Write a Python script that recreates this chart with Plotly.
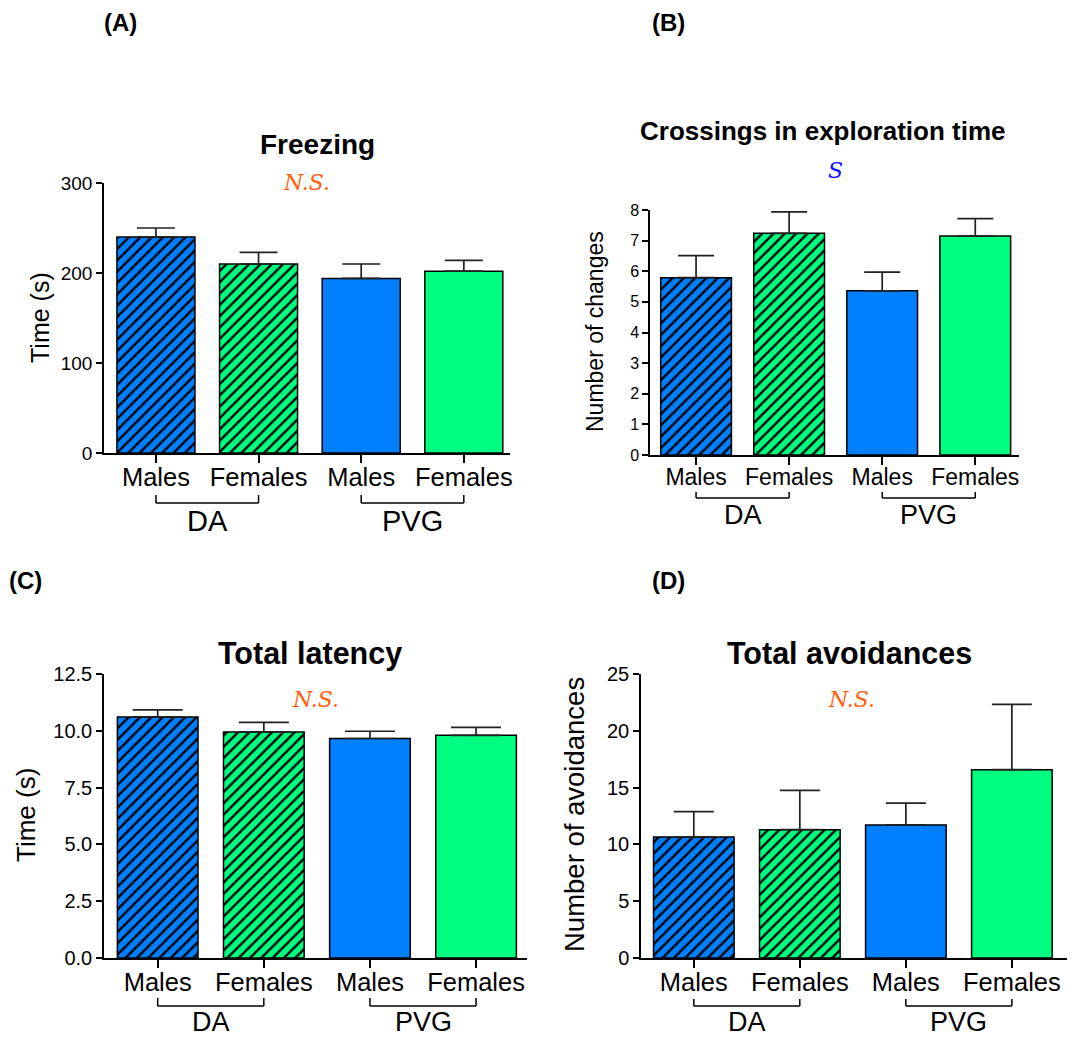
import plotly.graph_objects as go

W, H = 1083, 1040

# ---------------- data ----------------
groups = ["DA", "DA", "PVG", "PVG"]
sexes = ["Males", "Females", "Males", "Females"]
categories = [f"{g} {s}" for g, s in zip(groups, sexes)]
bar_colors = ["#0080FF", "#00FF80", "#0080FF", "#00FF80"]
hatch = ["/", "/", "", ""]

freezing_mean = [240, 210, 194, 202]
freezing_sem = [10, 13, 16, 12]

crossings_mean = [5.79, 7.24, 5.36, 7.15]
crossings_sem = [0.72, 0.70, 0.61, 0.57]

latency_mean = [10.61, 9.95, 9.66, 9.80]
latency_sem = [0.31, 0.42, 0.32, 0.35]

avoid_mean = [10.65, 11.30, 11.71, 16.58]
avoid_sem = [2.24, 3.46, 1.93, 5.75]

FONT = "Liberation Sans, Arial, sans-serif"

fig = go.Figure()


def px_x(p):
    return p / W


def px_y(p):
    return 1 - p / H


panels = [
    dict(key="", means=freezing_mean, sems=freezing_sem,
         xdom=(104, 510), ydom=(453, 183), yr=[0, 300], xr=[-0.506, 3.45],
         dtick=100, tickfmt="", tfs=19, catfs=25.5, grpfs=29,
         title="Freezing", tx=317, ty=145, tsize=28,
         ytitle="Time (s)", ytx=40, yty=318, ytsize=25,
         sig="N.S.", sigcol="#FF6010", sx=306, sy=182,
         capw=19, brk_top=495, brk_bot=503, grp_y=521,
         label="(A)", lx=120, ly=22),
    dict(key="2", means=crossings_mean, sems=crossings_sem,
         xdom=(650, 1019), ydom=(455, 210), yr=[0, 8], xr=[-0.495, 3.47],
         dtick=1, tickfmt="", tfs=16, catfs=23, grpfs=27,
         title="Crossings in exploration time", tx=823, ty=131, tsize=26,
         ytitle="Number of changes", ytx=595, yty=332, ytsize=23,
         sig="S", sigcol="#1010FF", sx=835, sy=171,
         capw=18, brk_top=492, brk_bot=498, grp_y=515,
         label="(B)", lx=668, ly=22),
    dict(key="3", means=latency_mean, sems=latency_sem,
         xdom=(104, 527), ydom=(958, 674), yr=[0, 12.5], xr=[-0.506, 3.48],
         dtick=2.5, tickfmt=".1f", tfs=20, catfs=25.5, grpfs=27,
         title="Total latency", tx=310, ty=653, tsize=30.5,
         ytitle="Time (s)", ytx=26, yty=815, ytsize=26,
         sig="N.S.", sigcol="#FF6010", sx=315, sy=699,
         capw=25, brk_top=998, brk_bot=1006, grp_y=1022,
         label="(C)", lx=25, ly=580),
    dict(key="4", means=avoid_mean, sems=avoid_sem,
         xdom=(641, 1067), ydom=(958, 674), yr=[0, 25], xr=[-0.498, 3.52],
         dtick=5, tickfmt="", tfs=20, catfs=25.5, grpfs=27,
         title="Total avoidances", tx=849, ty=653, tsize=30.5,
         ytitle="Number of avoidances", ytx=574, yty=815, ytsize=27.5,
         sig="N.S.", sigcol="#FF6010", sx=851, sy=699,
         capw=20, brk_top=999, brk_bot=1006, grp_y=1022,
         label="(D)", lx=668, ly=580),
]

annotations = []
shapes = []

for p in panels:
    k = p["key"]
    xa = "x" + k
    ya = "y" + k
    for i in range(len(categories)):
        fig.add_trace(go.Bar(
            x=[categories[i]], y=[p["means"][i]], xaxis=xa, yaxis=ya,
            width=0.76,
            marker=dict(color=bar_colors[i],
                        line=dict(color="black", width=1.5),
                        pattern=dict(shape=hatch[i], fillmode="overlay",
                                     fgcolor="black", fgopacity=1,
                                     size=8, solidity=0.3)),
            error_y=dict(type="data", array=[p["sems"][i]], arrayminus=[0],
                         symmetric=False, color="#222222", thickness=1.7,
                         width=p["capw"]),
            showlegend=False, hoverinfo="skip",
        ))
    axis_common = dict(showline=True, linecolor="black", linewidth=1.5,
                       ticks="outside", tickcolor="black", tickwidth=1.5,
                       showgrid=False, zeroline=False, fixedrange=True,
                       automargin=False)
    fig.update_layout(**{
        ("xaxis" + k): dict(domain=[px_x(p["xdom"][0]), px_x(p["xdom"][1])],
                            anchor=ya, type="category", range=p["xr"],
                            categoryorder="array", categoryarray=categories,
                            tickvals=categories, ticktext=sexes, ticklen=8,
                            ticklabelstandoff=-7,
                            tickfont=dict(family=FONT, size=p["catfs"], color="black"),
                            **axis_common),
        ("yaxis" + k): dict(domain=[px_y(p["ydom"][0]), px_y(p["ydom"][1])],
                            anchor=xa, range=p["yr"], dtick=p["dtick"], tick0=0,
                            tickformat=p["tickfmt"], ticklen=6,
                            tickfont=dict(family=FONT, size=p["tfs"], color="black"),
                            **axis_common),
    })
    # brackets under each group
    for gname, (c0, c1) in [("DA", (0, 1)), ("PVG", (2, 3))]:
        for cx in (categories[c0], categories[c1]):
            shapes.append(dict(type="line", xref=xa, yref="paper",
                               x0=cx, x1=cx, y0=px_y(p["brk_top"]), y1=px_y(p["brk_bot"]),
                               line=dict(color="black", width=1.5)))
        shapes.append(dict(type="line", xref=xa, yref="paper",
                           x0=categories[c0], x1=categories[c1],
                           y0=px_y(p["brk_bot"]), y1=px_y(p["brk_bot"]),
                           line=dict(color="black", width=1.5)))
        annotations.append(dict(text=gname, xref=xa, yref="paper",
                                x=(c0 + c1) / 2, y=px_y(p["grp_y"]),
                                showarrow=False, xanchor="center", yanchor="middle",
                                font=dict(family=FONT, size=p["grpfs"], color="black")))
    # title
    annotations.append(dict(text="<b>" + p["title"] + "</b>", xref="paper", yref="paper",
                            x=px_x(p["tx"]), y=px_y(p["ty"]), showarrow=False,
                            xanchor="center", yanchor="middle",
                            font=dict(family=FONT, size=p["tsize"], color="black")))
    # y title
    annotations.append(dict(text=p["ytitle"], xref="paper", yref="paper",
                            x=px_x(p["ytx"]), y=px_y(p["yty"]), showarrow=False,
                            textangle=-90, xanchor="center", yanchor="middle",
                            font=dict(family=FONT, size=p["ytsize"], color="black")))
    # significance
    annotations.append(dict(text="<i>" + p["sig"] + "</i>", xref="paper", yref="paper",
                            x=px_x(p["sx"]), y=px_y(p["sy"]), showarrow=False,
                            xanchor="center", yanchor="middle",
                            font=dict(family="DejaVu Serif, serif", size=22, color=p["sigcol"])))
    # panel label
    annotations.append(dict(text="<b>" + p["label"] + "</b>", xref="paper", yref="paper",
                            x=px_x(p["lx"]), y=px_y(p["ly"]), showarrow=False,
                            xanchor="center", yanchor="middle",
                            font=dict(family=FONT, size=24, color="black")))

fig.update_layout(width=W, height=H, margin=dict(l=0, r=0, t=0, b=0, autoexpand=False),
                  paper_bgcolor="white", plot_bgcolor="white", barmode="overlay",
                  annotations=annotations, shapes=shapes)

fig.write_html("out.html", config={"displayModeBar": False},
               post_script="document.body.style.margin='0';document.body.style.overflow='hidden';")
